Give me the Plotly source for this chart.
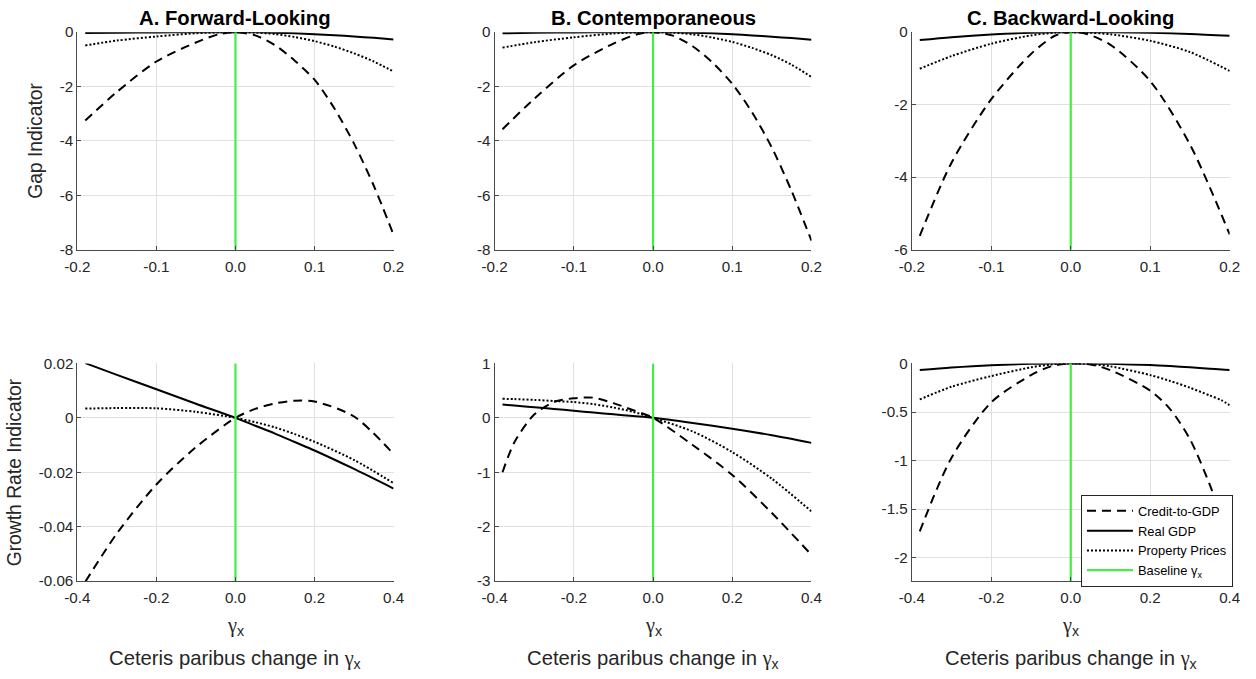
import plotly.graph_objects as go

# Observed page -> picture mapping: the page body keeps an 8px margin and the
# captured page is scaled slightly, so screen positions are converted below.
W, H = 1256, 679
OFF = 8
SX, SY = 1256 / 1272, 679 / 695
FONT = "Liberation Sans, Arial, sans-serif"
TXT = "#262626"

# ---------------- data ----------------
panel_titles = ["A. Forward-Looking", "B. Contemporaneous", "C. Backward-Looking"]
series_names = ["Credit-to-GDP", "Real GDP", "Property Prices"]
baseline_gamma = 0.0

# Row 1: Gap indicator
xA = [-0.19, -0.15, -0.1, -0.05, -0.02, 0, 0.025, 0.05, 0.075, 0.1, 0.125, 0.15, 0.175, 0.2]
A_credit = [-3.25, -2.2, -1.08, -0.38, -0.07, 0.0, -0.12, -0.48, -1.05, -1.75, -2.8, -4.1, -5.65, -7.45]
A_gdp = [-0.03, -0.02, -0.01, -0.003, 0.0, 0.0, -0.004, -0.02, -0.045, -0.08, -0.115, -0.16, -0.21, -0.27]
A_prop = [-0.49, -0.31, -0.16, -0.04, -0.006, 0.0, -0.015, -0.07, -0.18, -0.33, -0.53, -0.78, -1.08, -1.45]

xB = [-0.19, -0.15, -0.1, -0.05, -0.02, 0, 0.025, 0.05, 0.075, 0.1, 0.125, 0.15, 0.175, 0.2]
B_credit = [-3.57, -2.45, -1.22, -0.42, -0.08, 0.0, -0.13, -0.52, -1.12, -1.9, -2.95, -4.25, -5.85, -7.67]
B_gdp = [-0.04, -0.025, -0.012, -0.003, 0.0, 0.0, -0.004, -0.02, -0.045, -0.08, -0.12, -0.17, -0.22, -0.28]
B_prop = [-0.57, -0.37, -0.19, -0.05, -0.008, 0.0, -0.02, -0.08, -0.2, -0.36, -0.58, -0.85, -1.2, -1.65]

xC = [-0.19, -0.15, -0.1, -0.05, -0.02, 0, 0.02, 0.05, 0.1, 0.15, 0.2]
C_credit = [-5.62, -3.6, -1.85, -0.6, -0.1, 0.0, -0.05, -0.35, -1.35, -3.1, -5.58]
C_gdp = [-0.22, -0.14, -0.065, -0.017, -0.003, 0.0, -0.001, -0.005, -0.02, -0.05, -0.1]
C_prop = [-1.01, -0.66, -0.32, -0.09, -0.015, 0.0, -0.01, -0.06, -0.24, -0.55, -1.07]

# Row 2: Growth rate indicator
xD = [-0.38, -0.3, -0.2, -0.1, 0, 0.05, 0.1, 0.15, 0.2, 0.3, 0.4]
D_credit = [-0.0603, -0.0425, -0.0245, -0.0108, 0.0, 0.0033, 0.0053, 0.0063, 0.006, 0.0005, -0.0133]
D_gdp = [0.0201, 0.0158, 0.0105, 0.0052, 0.0, -0.0029, -0.0058, -0.0089, -0.012, -0.0188, -0.026]
D_prop = [0.0034, 0.0036, 0.0035, 0.0022, 0.0, -0.0016, -0.0035, -0.006, -0.0088, -0.0155, -0.024]

xE = [-0.38, -0.35, -0.3, -0.25, -0.2, -0.15, -0.1, -0.05, 0, 0.1, 0.2, 0.3, 0.4]
E_credit = [-1.0, -0.45, 0.06, 0.29, 0.36, 0.37, 0.27, 0.14, 0.0, -0.5, -1.05, -1.75, -2.52]
E_gdp = [0.245, 0.227, 0.195, 0.163, 0.13, 0.097, 0.065, 0.032, 0.0, -0.095, -0.2, -0.32, -0.46]
E_prop = [0.35, 0.345, 0.33, 0.31, 0.29, 0.25, 0.19, 0.11, 0.0, -0.25, -0.63, -1.12, -1.72]

xF = [-0.38, -0.3, -0.2, -0.1, -0.05, 0, 0.05, 0.1, 0.2, 0.25, 0.3, 0.35, 0.38, 0.4]
F_credit = [-1.73, -0.97, -0.4, -0.12, -0.03, 0.0, -0.01, -0.07, -0.28, -0.47, -0.78, -1.25, -1.6, -1.9]
F_gdp = [-0.068, -0.042, -0.018, -0.004, -0.001, 0.0, -0.001, -0.004, -0.017, -0.027, -0.04, -0.055, -0.062, -0.068]
F_prop = [-0.37, -0.24, -0.13, -0.04, -0.01, 0.0, -0.008, -0.03, -0.12, -0.18, -0.25, -0.33, -0.38, -0.43]

# axis ticks / ranges
x_top_ticks = [-0.2, -0.1, 0.0, 0.1, 0.2]
x_top_labels = ["-0.2", "-0.1", "0.0", "0.1", "0.2"]
x_bot_ticks = [-0.4, -0.2, 0.0, 0.2, 0.4]
x_bot_labels = ["-0.4", "-0.2", "0.0", "0.2", "0.4"]

yA_ticks = [0, -2, -4, -6, -8]
yA_labels = ["0", "-2", "-4", "-6", "-8"]
yC_ticks = [0, -2, -4, -6]
yC_labels = ["0", "-2", "-4", "-6"]
yD_ticks = [0.02, 0, -0.02, -0.04, -0.06]
yD_labels = ["0.02", "0", "-0.02", "-0.04", "-0.06"]
yE_ticks = [1, 0, -1, -2, -3]
yE_labels = ["1", "0", "-1", "-2", "-3"]
yF_ticks = [0, -0.5, -1, -1.5, -2]
yF_labels = ["0", "-0.5", "-1", "-1.5", "-2"]

ylims = {
    "A": [-8, 0], "B": [-8, 0], "C": [-6, 0],
    "D": [-0.06, 0.02], "E": [-3, 1], "F": [-2.24, 0],
}

# ---------------- layout geometry (target picture pixels) ----------------
col_px = [(72.7, 391.0), (492.7, 811.7), (912.7, 1232.7)]
row_px = [(31.0, 249.0), (363.0, 581.0)]


def px(xs):
    return (xs / SX - OFF) / W


def py(ys):
    return 1 - (ys / SY - OFF) / H


def xd(a, b):
    return [px(a), px(b)]


def yd(top, bot):
    return [py(bot), py(top)]


panels = [
    ("A", 0, 0, xA, A_credit, A_gdp, A_prop, x_top_ticks, x_top_labels, [-0.2, 0.2], yA_ticks, yA_labels),
    ("B", 0, 1, xB, B_credit, B_gdp, B_prop, x_top_ticks, x_top_labels, [-0.2, 0.2], yA_ticks, yA_labels),
    ("C", 0, 2, xC, C_credit, C_gdp, C_prop, x_top_ticks, x_top_labels, [-0.2, 0.2], yC_ticks, yC_labels),
    ("D", 1, 0, xD, D_credit, D_gdp, D_prop, x_bot_ticks, x_bot_labels, [-0.4, 0.4], yD_ticks, yD_labels),
    ("E", 1, 1, xE, E_credit, E_gdp, E_prop, x_bot_ticks, x_bot_labels, [-0.4, 0.4], yE_ticks, yE_labels),
    ("F", 1, 2, xF, F_credit, F_gdp, F_prop, x_bot_ticks, x_bot_labels, [-0.4, 0.4], yF_ticks, yF_labels),
]

fig = go.Figure()
layout = {}
GRID = "#e0e0e0"
AXC = "#4a4a4a"
GREEN = "#44ee44"

for i, (key, r, c, xs, cr, gd, pp, xt, xl, xr, yt, yl) in enumerate(panels):
    n = "" if i == 0 else str(i + 1)
    xa, ya = "x" + n, "y" + n
    show = key == "F"
    styles = [
        (series_names[0], cr, dict(color="black", width=2, dash="9px,6px")),
        (series_names[1], gd, dict(color="black", width=2)),
        (series_names[2], pp, dict(color="black", width=2, dash="2px,2px")),
    ]
    for name, ys, ln in styles:
        fig.add_trace(go.Scatter(
            x=xs, y=ys, mode="lines", name=name, showlegend=show,
            line=dict(shape="spline", smoothing=0.8, **ln),
            xaxis=xa, yaxis=ya, cliponaxis=True,
        ))
    fig.add_trace(go.Scatter(
        x=[baseline_gamma, baseline_gamma], y=ylims[key], mode="lines",
        name="Baseline γ<sub>x</sub>", showlegend=show,
        line=dict(color=GREEN, width=2.2), xaxis=xa, yaxis=ya,
    ))
    layout["xaxis" + n] = dict(
        domain=xd(*col_px[c]), anchor=ya, range=xr, tickvals=xt, ticktext=xl,
        showgrid=True, gridcolor=GRID, gridwidth=1, zeroline=False,
        showline=True, linecolor=AXC, linewidth=1,
        ticks="inside", ticklen=4, tickcolor=AXC, ticklabelstandoff=3,
        tickfont=dict(family=FONT, size=15.2, color=TXT),
        fixedrange=True,
    )
    layout["yaxis" + n] = dict(
        domain=yd(*row_px[r]), anchor=xa, range=ylims[key], tickvals=yt, ticktext=yl,
        showgrid=True, gridcolor=GRID, gridwidth=1, zeroline=False,
        showline=True, linecolor=AXC, linewidth=1,
        ticks="inside", ticklen=4, tickcolor=AXC, ticklabelstandoff=0,
        tickfont=dict(family=FONT, size=15.2, color=TXT),
        fixedrange=True,
    )

annotations = []
for c, t in enumerate(panel_titles):
    cx = (col_px[c][0] + col_px[c][1]) / 2
    annotations.append(dict(
        text="<b>" + t + "</b>", x=px(cx), y=py(17), xref="paper", yref="paper",
        xanchor="center", yanchor="middle", showarrow=False,
        font=dict(family=FONT, size=20.3, color="black"),
    ))

annotations.append(dict(
    text="Gap Indicator", x=px(31), y=py(140), xref="paper", yref="paper",
    xanchor="center", yanchor="middle", showarrow=False, textangle=-90,
    font=dict(family=FONT, size=19.3, color=TXT),
))
annotations.append(dict(
    text="Growth Rate Indicator", x=px(9), y=py(472), xref="paper", yref="paper",
    xanchor="center", yanchor="middle", showarrow=False, textangle=-90,
    font=dict(family=FONT, size=19.3, color=TXT),
))

GAMMA = '<span style="font-family:Liberation Serif">γ</span><sub>x</sub>'
for c in range(3):
    cx = (col_px[c][0] + col_px[c][1]) / 2
    annotations.append(dict(
        text=GAMMA, x=px(cx), y=py(627), xref="paper", yref="paper",
        xanchor="center", yanchor="middle", showarrow=False,
        font=dict(family=FONT, size=20.3, color=TXT),
    ))
    annotations.append(dict(
        text="Ceteris paribus change in " + GAMMA, x=px(cx), y=py(660),
        xref="paper", yref="paper", xanchor="center", yanchor="middle", showarrow=False,
        font=dict(family=FONT, size=20.3, color=TXT),
    ))

fig.update_layout(
    width=W, height=H, margin=dict(l=0, r=0, t=0, b=0),
    paper_bgcolor="white", plot_bgcolor="white",
    annotations=annotations,
    showlegend=True,
    legend=dict(
        x=px(1236), y=py(587), xanchor="right", yanchor="bottom",
        bgcolor="white", bordercolor="#262626", borderwidth=1,
        font=dict(family=FONT, size=12.9, color="black"),
        tracegroupgap=0, itemwidth=46,
    ),
    **layout,
)

fig.write_html("out.html")
